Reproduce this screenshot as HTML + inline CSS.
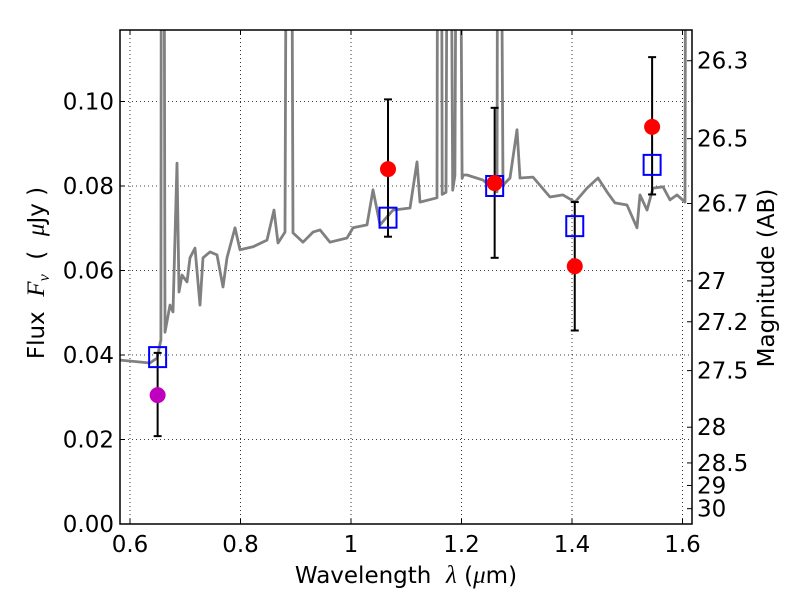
<!DOCTYPE html>
<html><head><meta charset="utf-8"><style>
body{margin:0;background:#fff}
svg{display:block;font-family:"DejaVu Sans","Liberation Sans",sans-serif}
</style></head><body>
<svg id="chart" width="800" height="600" viewBox="0 0 800 600" xmlns="http://www.w3.org/2000/svg">
<rect width="800" height="600" fill="#fff"/>
<g id="grid"></g>
<g id="spec"></g>
<g id="pts"></g>
<g id="axes"></g>
<text x="406" y="583" font-size="23" text-anchor="middle" xml:space="preserve">Wavelength  <tspan font-style="italic" font-family="Liberation Serif" font-size="25">λ</tspan> (<tspan font-style="italic" font-family="Liberation Serif" font-size="25">μ</tspan>m)</text>
<text transform="translate(44,273) rotate(-90)" font-size="23" text-anchor="middle" xml:space="preserve">Flux  <tspan font-style="italic" font-family="Liberation Serif" font-size="25">F<tspan font-size="16" dy="5">ν</tspan></tspan><tspan dy="-5">  (  </tspan><tspan font-style="italic" font-family="Liberation Serif" font-size="25">μ</tspan>Jy )</text>
<text transform="translate(774,278) rotate(-90)" font-size="23" text-anchor="middle">Magnitude (AB)</text>
</svg>
<script>
const specX=[0.582,0.636,0.649,0.656,0.657,0.661,0.6633,0.6724,0.6778,0.6851,0.6887,0.6941,0.7032,0.7086,0.7176,0.7267,0.7321,0.7448,0.7575,0.7683,0.7756,0.7900,0.7991,0.8226,0.8480,0.8606,0.8679,0.8805,0.8842,0.8914,0.8950,0.9131,0.9312,0.9439,0.9620,0.9928,1.0036,1.0290,1.0398,1.0525,1.0760,1.1068,1.1195,1.1249,1.1557,1.1575,1.1630,1.1650,1.1720,1.1756,1.1790,1.1840,1.1880,1.1920,1.1960,1.2010,1.2030,1.2100,1.2389,1.2643,1.2661,1.2697,1.2751,1.2878,1.3005,1.3059,1.3294,1.3602,1.3837,1.4054,1.4271,1.4471,1.4633,1.4778,1.4995,1.5176,1.5231,1.5357,1.5466,1.5647,1.5774,1.5900,1.6045,1.6063,1.62];
const specY=[0.0388,0.0381,0.0393,0.0436,0.2,0.2,0.0454,0.0518,0.0502,0.0854,0.0549,0.0589,0.0573,0.0630,0.0653,0.0518,0.0630,0.0644,0.0637,0.0561,0.0630,0.0701,0.0649,0.0656,0.0672,0.0743,0.0665,0.0691,0.2,0.2,0.0689,0.0667,0.0691,0.0696,0.0667,0.0677,0.0701,0.0708,0.0791,0.0708,0.0743,0.0748,0.0857,0.0762,0.0772,0.2,0.2,0.0780,0.0785,0.2,0.2,0.0790,0.0825,0.2,0.2,0.0818,0.0826,0.0826,0.0814,0.0786,0.2,0.2,0.0802,0.0819,0.0933,0.0819,0.0821,0.0774,0.0779,0.0762,0.0795,0.0819,0.0786,0.0760,0.0755,0.0701,0.0779,0.0743,0.0795,0.0798,0.0767,0.0779,0.0762,0.2,0.2];
const bands=[0.65,1.067,1.26,1.405,1.545];
const obsFlux=[0.0305,0.084,0.0807,0.061,0.094];
const errLo=[0.0208,0.068,0.063,0.0458,0.078];
const errHi=[0.0405,0.1005,0.0985,0.0762,0.1105];
const obsColor=['#bf00bf','#ff0000','#ff0000','#ff0000','#ff0000'];
const modelFlux=[0.0395,0.0725,0.080,0.0705,0.085];
const xTicks=[0.6,0.8,1.0,1.2,1.4,1.6];
const xTickLabels=['0.6','0.8','1','1.2','1.4','1.6'];
const yTicks=[0,0.02,0.04,0.06,0.08,0.10];
const yTickLabels=['0.00','0.02','0.04','0.06','0.08','0.10'];
const magTicks=[26.3,26.5,26.7,27,27.2,27.5,28,28.5,29,30];
const magLabels=['26.3','26.5','26.7','27','27.2','27.5','28','28.5','29','30'];

const L=120,R=692,T=30,B=524;
const xs=v=>130+(v-0.6)*552.5;
const ys=v=>524-v*4225;
const magY=m=>ys(Math.pow(10,(23.9-m)/2.5));
const NS='http://www.w3.org/2000/svg';
function mk(tag,attrs,parent){const e=document.createElementNS(NS,tag);for(const k in attrs)e.setAttribute(k,attrs[k]);parent.appendChild(e);return e;}
const grid=document.getElementById('grid'),spec=document.getElementById('spec'),pts=document.getElementById('pts'),axes=document.getElementById('axes');

xTicks.forEach((v,i)=>{
  const g=mk('line',{x1:xs(v),x2:xs(v),y1:T,y2:B,stroke:'#000','stroke-width':0.8,'stroke-dasharray':'1,3'},grid);
  
  
  mk('line',{x1:xs(v),x2:xs(v),y1:B,y2:B-5,stroke:'#000'},axes);
  mk('line',{x1:xs(v),x2:xs(v),y1:T,y2:T+5,stroke:'#000'},axes);
  const t=mk('text',{x:xs(v),y:B+28,'font-size':23,'text-anchor':'middle'},axes);
  t.textContent=xTickLabels[i];
  
  
});
yTicks.forEach((v,i)=>{
  const g=mk('line',{x1:L,x2:R,y1:ys(v),y2:ys(v),stroke:'#000','stroke-width':0.8,'stroke-dasharray':'1,3'},grid);
  
  
  mk('line',{x1:L,x2:L+5,y1:ys(v),y2:ys(v),stroke:'#000'},axes);
  const t=mk('text',{x:114,y:ys(v)+8,'font-size':23,'text-anchor':'end'},axes);
  t.textContent=yTickLabels[i];
  
  
});
magTicks.forEach((m,i)=>{
  const y=magY(m);
  mk('line',{x1:R,x2:R-5,y1:y,y2:y,stroke:'#000'},axes);
  const t=mk('text',{x:697,y:y+8,'font-size':23},axes);
  t.textContent=magLabels[i];
  
  
});
mk('clipPath',{id:'clip'},spec);
mk('rect',{x:L,y:T,width:R-L,height:B-T},document.getElementById('clip'));
let d='';
specX.forEach((x,i)=>{d+=(i?'L':'M')+xs(x).toFixed(1)+','+ys(specY[i]).toFixed(1);});
const p=mk('path',{d:d,fill:'none',stroke:'#808080','stroke-width':2.8,'stroke-linejoin':'round','clip-path':'url(#clip)'},spec);



bands.forEach((b,i)=>{
  const x=xs(b);
  const e=mk('g',{},pts);
  
  
  mk('line',{x1:x,x2:x,y1:ys(errLo[i]),y2:ys(errHi[i]),stroke:'#000','stroke-width':2},e);
  mk('line',{x1:x-4,x2:x+4,y1:ys(errLo[i]),y2:ys(errLo[i]),stroke:'#000','stroke-width':2},e);
  mk('line',{x1:x-4,x2:x+4,y1:ys(errHi[i]),y2:ys(errHi[i]),stroke:'#000','stroke-width':2},e);
  const s=mk('rect',{x:x-8.5,y:ys(modelFlux[i])-10,width:17,height:20,fill:'none',stroke:'#0000ff','stroke-width':2},pts);
  
  
  const c=mk('circle',{cx:x,cy:ys(obsFlux[i]),r:8,fill:obsColor[i]},pts);
  
  
});
const f=mk('rect',{x:L,y:T,width:R-L,height:B-T,fill:'none',stroke:'#000','stroke-width':1.5},axes);


</script>
</body></html>
